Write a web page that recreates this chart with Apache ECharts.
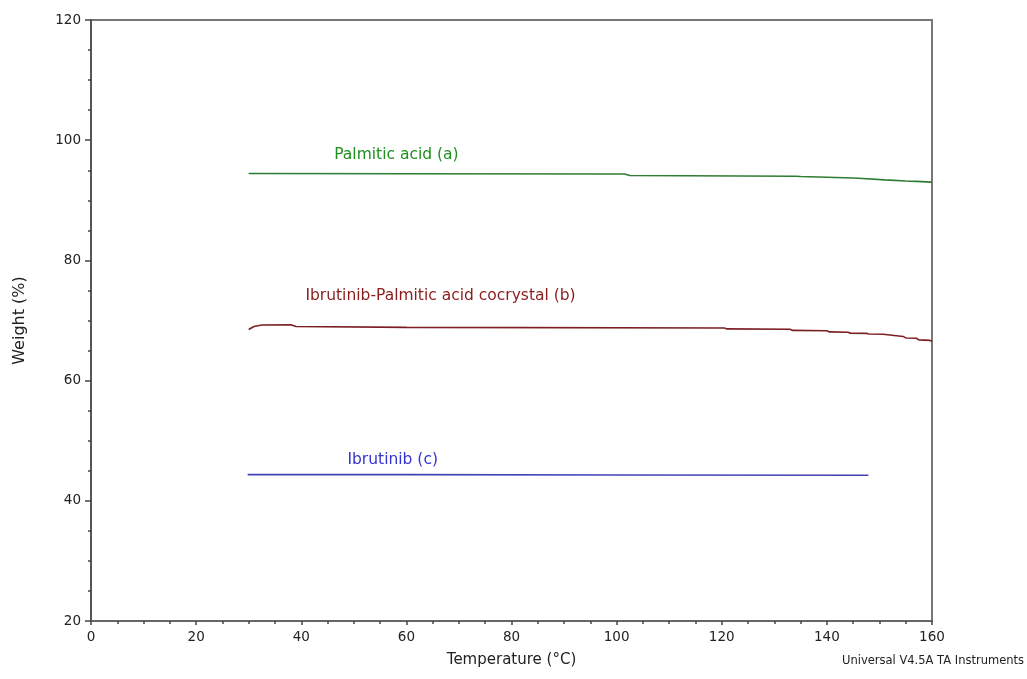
<!DOCTYPE html>
<html>
<head>
<meta charset="utf-8">
<title>TGA – Weight vs Temperature</title>
<script src="https://cdn.jsdelivr.net/npm/echarts@6/dist/echarts.min.js"></script>
<style>
  html, body { margin: 0; padding: 0; background: #fff; }
  #chart { width: 1027px; height: 679px; }
</style>
</head>
<body>
<div id="chart"></div>
<script>
// Thermogravimetric traces: temperature (°C) and weight (%)
const tempA   = [30, 60, 101.5, 102.5, 134, 135, 145, 146, 151, 152, 155, 157, 160];
const weightA = [94.45, 94.42, 94.38, 94.12, 94.0, 93.95, 93.72, 93.68, 93.4, 93.35, 93.2, 93.15, 93.02];

const tempB   = [30, 31, 32.5, 38, 39, 60, 120.5, 121, 133, 133.5, 140, 140.5, 144, 144.5, 147.6, 148, 150.7, 151, 154.5, 155, 157, 157.5, 159.6, 160];
const weightB = [68.5, 69.0, 69.25, 69.3, 69.0, 68.85, 68.75, 68.6, 68.55, 68.35, 68.3, 68.1, 68.05, 67.9, 67.85, 67.75, 67.7, 67.4, 67.35, 67.1, 67.05, 66.78, 66.7, 66.5];

const tempC   = [29.8, 60, 100, 147.9];
const weightC = [44.35, 44.35, 44.3, 44.25];

const seriesNames = ['Palmitic acid (a)', 'Ibrutinib-Palmitic acid cocrystal (b)', 'Ibrutinib (c)'];
const xTicks = [0, 20, 40, 60, 80, 100, 120, 140, 160];
const yTicks = [20, 40, 60, 80, 100, 120];

const zip = (xs, ys) => xs.map((x, i) => [x, ys[i]]);
const FONT = '"DejaVu Sans", Verdana, sans-serif';

function trace(name, data, lineColor, textColor, at) {
  return {
    name: name,
    type: 'line',
    data: data,
    showSymbol: false,
    smooth: false,
    lineStyle: { color: lineColor, width: 1.6 },
    silent: true,
    markPoint: {
      symbol: 'circle',
      symbolSize: 0,
      data: [{ coord: at, value: name }],
      label: {
        show: true,
        formatter: name,
        color: textColor,
        fontFamily: FONT,
        fontSize: 15.5,
        position: 'inside'
      }
    }
  };
}

const chart = echarts.init(document.getElementById('chart'));
chart.setOption({
  animation: false,
  backgroundColor: '#ffffff',
  grid: {
    left: 91, right: 95, top: 20, bottom: 58,
    show: true, borderColor: '#777', borderWidth: 2, backgroundColor: 'transparent'
  },
  xAxis: {
    type: 'value',
    min: xTicks[0], max: xTicks[xTicks.length - 1], interval: 20,
    name: 'Temperature (°C)',
    nameLocation: 'middle',
    nameGap: 32,
    nameTextStyle: { fontFamily: FONT, fontSize: 15, color: '#222' },
    axisLine: { show: true, lineStyle: { color: '#666', width: 2 } },
    axisTick: { show: true, inside: false, length: 4, lineStyle: { color: '#444', width: 1.5 } },
    minorTick: { show: true, splitNumber: 4, length: 3, lineStyle: { color: '#444', width: 1.5 } },
    splitLine: { show: false },
    axisLabel: { fontFamily: FONT, fontSize: 13.5, color: '#222', margin: 9 }
  },
  yAxis: {
    type: 'value',
    min: yTicks[0], max: yTicks[yTicks.length - 1], interval: 20,
    name: 'Weight (%)',
    nameLocation: 'middle',
    nameRotate: 90,
    nameGap: 63,
    nameTextStyle: { fontFamily: FONT, fontSize: 16, color: '#222' },
    axisLine: { show: true, lineStyle: { color: '#555', width: 2 } },
    axisTick: { show: true, inside: false, length: 6, lineStyle: { color: '#444', width: 1.5 } },
    minorTick: { show: true, splitNumber: 4, length: 3, lineStyle: { color: '#444', width: 1.5 } },
    splitLine: { show: false },
    axisLabel: { fontFamily: FONT, fontSize: 13.5, color: '#222', margin: 10 }
  },
  graphic: [{
    type: 'text',
    right: 3,
    top: 655,
    style: { text: 'Universal V4.5A TA Instruments', fontFamily: FONT, fontSize: 11.5, fill: '#222' }
  }],
  series: [
    trace(seriesNames[0], zip(tempA, weightA), '#2f7d32', '#1f8f1f', [58.1, 97.55]),
    trace(seriesNames[1], zip(tempB, weightB), '#7d1f22', '#8a1c1c', [66.5, 74.1]),
    trace(seriesNames[2], zip(tempC, weightC), '#4343b8', '#3434d0', [57.4, 46.85])
  ]
});
</script>
</body>
</html>
